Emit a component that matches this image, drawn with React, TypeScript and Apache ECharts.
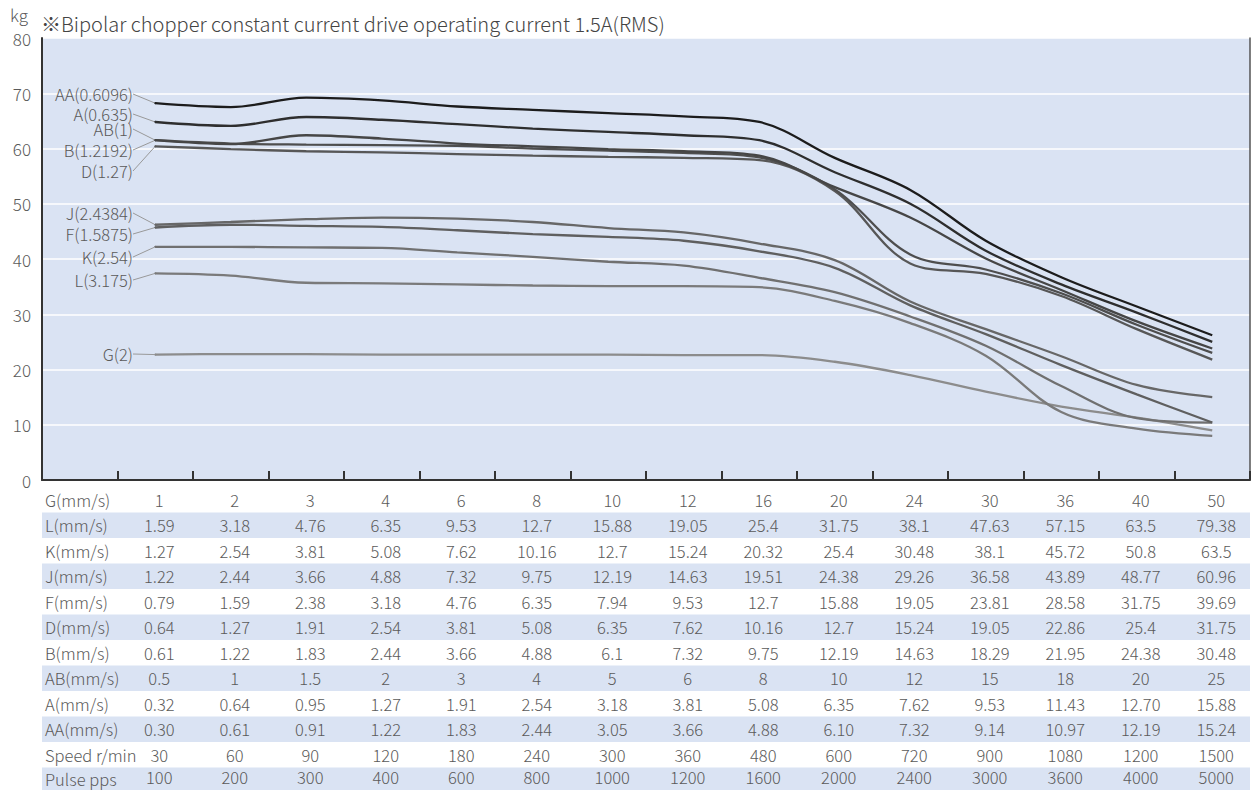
import React, { useEffect, useRef } from 'react';
import * as echarts from 'echarts';

// ---- data ----
const speedG = ['1', '2', '3', '4', '6', '8', '10', '12', '16', '20', '24', '30', '36', '40', '50'];
const rowL = ['1.59', '3.18', '4.76', '6.35', '9.53', '12.7', '15.88', '19.05', '25.4', '31.75', '38.1', '47.63', '57.15', '63.5', '79.38'];
const rowK = ['1.27', '2.54', '3.81', '5.08', '7.62', '10.16', '12.7', '15.24', '20.32', '25.4', '30.48', '38.1', '45.72', '50.8', '63.5'];
const rowJ = ['1.22', '2.44', '3.66', '4.88', '7.32', '9.75', '12.19', '14.63', '19.51', '24.38', '29.26', '36.58', '43.89', '48.77', '60.96'];
const rowF = ['0.79', '1.59', '2.38', '3.18', '4.76', '6.35', '7.94', '9.53', '12.7', '15.88', '19.05', '23.81', '28.58', '31.75', '39.69'];
const rowD = ['0.64', '1.27', '1.91', '2.54', '3.81', '5.08', '6.35', '7.62', '10.16', '12.7', '15.24', '19.05', '22.86', '25.4', '31.75'];
const rowB = ['0.61', '1.22', '1.83', '2.44', '3.66', '4.88', '6.1', '7.32', '9.75', '12.19', '14.63', '18.29', '21.95', '24.38', '30.48'];
const rowAB = ['0.5', '1', '1.5', '2', '3', '4', '5', '6', '8', '10', '12', '15', '18', '20', '25'];
const rowA = ['0.32', '0.64', '0.95', '1.27', '1.91', '2.54', '3.18', '3.81', '5.08', '6.35', '7.62', '9.53', '11.43', '12.70', '15.88'];
const rowAA = ['0.30', '0.61', '0.91', '1.22', '1.83', '2.44', '3.05', '3.66', '4.88', '6.10', '7.32', '9.14', '10.97', '12.19', '15.24'];
const rowSpeed = ['30', '60', '90', '120', '180', '240', '300', '360', '480', '600', '720', '900', '1080', '1200', '1500'];
const rowPulse = ['100', '200', '300', '400', '600', '800', '1000', '1200', '1600', '2000', '2400', '3000', '3600', '4000', '5000'];

const tableLabels = ['G(mm/s)', 'L(mm/s)', 'K(mm/s)', 'J(mm/s)', 'F(mm/s)', 'D(mm/s)', 'B(mm/s)', 'AB(mm/s)', 'A(mm/s)', 'AA(mm/s)', 'Speed r/min', 'Pulse pps'];
const tableValues = [speedG, rowL, rowK, rowJ, rowF, rowD, rowB, rowAB, rowA, rowAA, rowSpeed, rowPulse];

const seriesNames = ['AA(0.6096)', 'A(0.635)', 'AB(1)', 'B(1.2192)', 'D(1.27)', 'J(2.4384)', 'F(1.5875)', 'K(2.54)', 'L(3.175)', 'G(2)'];
const forceAA = [68.2, 67.5, 69.2, 68.7, 67.6, 67.0, 66.4, 65.8, 64.8, 58.3, 52.5, 43.3, 36.7, 31.4, 26.2];
const forceA = [64.8, 64.1, 65.7, 65.2, 64.4, 63.6, 63.0, 62.4, 61.5, 55.7, 50.0, 41.5, 35.4, 30.3, 25.0];
const forceAB = [61.5, 60.8, 62.4, 61.8, 60.9, 60.4, 59.9, 59.5, 58.7, 53.0, 47.5, 40.1, 34.4, 28.7, 23.8];
const forceB = [61.5, 60.9, 60.7, 60.6, 60.5, 60.0, 59.6, 59.2, 58.4, 52.6, 40.8, 38.1, 33.8, 28.1, 23.0];
const forceD = [60.4, 59.9, 59.5, 59.3, 59.0, 58.7, 58.5, 58.3, 57.9, 52.3, 39.2, 37.3, 33.3, 27.3, 21.8];
const forceJ = [46.2, 46.7, 47.2, 47.5, 47.3, 46.7, 45.6, 44.8, 42.8, 39.8, 32.3, 27.3, 22.4, 17.2, 15.0];
const forceF = [45.7, 46.2, 46.0, 45.8, 45.2, 44.5, 44.0, 43.3, 41.4, 38.4, 31.6, 26.4, 20.8, 15.5, 10.4];
const forceK = [42.2, 42.2, 42.1, 42.0, 41.2, 40.4, 39.5, 38.8, 36.6, 34.0, 29.6, 24.3, 17.0, 11.2, 10.4];
const forceL = [37.4, 37.0, 35.7, 35.6, 35.4, 35.2, 35.1, 35.1, 34.9, 32.4, 28.4, 22.5, 12.3, 9.3, 8.0];
const forceG = [22.7, 22.8, 22.8, 22.7, 22.7, 22.7, 22.7, 22.6, 22.6, 21.4, 19.0, 16.0, 13.3, 11.3, 9.0];
const seriesValues = [forceAA, forceA, forceAB, forceB, forceD, forceJ, forceF, forceK, forceL, forceG];

const yTicks = { min: 0, max: 80, interval: 10 };

// ---- styles ----
const FONT = "'Noto Sans CJK JP Light', 'Noto Sans CJK JP DemiLight', 'Noto Sans CJK JP', 'Noto Sans', sans-serif";
const TEXT = '#5a5a5a';
const BLUE = '#dae3f3';
const lineColors = ['#1c1c1c', '#2e2e2e', '#464646', '#4e4e4e', '#575757', '#676767', '#5f5f5f', '#707070', '#7a7a7a', '#8c8c8c'];
const labelYs = [94, 114, 129, 150, 171, 213, 234, 257, 280, 354];

const GRID_L = 42;
const GRID_W = 1208;
const ROW_TOP = 487;
const ROW_H = 25.5;

function buildOption() {
  const grids: any[] = [
    { left: GRID_L, top: 38, width: GRID_W, height: 442, show: true, backgroundColor: BLUE, borderWidth: 0 },
  ];
  const xAxes: any[] = [
    {
      type: 'category',
      gridIndex: 0,
      data: ['', ...speedG],
      boundaryGap: true,
      axisLine: { lineStyle: { color: '#333', width: 2 } },
      axisTick: { show: true, inside: true, length: 9, interval: 0, lineStyle: { color: '#333', width: 2 } },
      axisLabel: { show: false },
      splitLine: { show: false },
    },
  ];
  const yAxes: any[] = [
    {
      type: 'value',
      gridIndex: 0,
      ...yTicks,
      name: 'kg',
      nameLocation: 'end',
      nameGap: 15,
      nameTextStyle: { fontSize: 17, color: TEXT, fontFamily: FONT, fontWeight: 300, align: 'right', verticalAlign: 'bottom', padding: [0, 14, 0, 0] },
      axisLine: { show: true, lineStyle: { color: '#333', width: 2 } },
      axisTick: { show: false },
      axisLabel: { fontSize: 17, color: TEXT, fontFamily: FONT, fontWeight: 300, margin: 11 },
      splitLine: { show: true, lineStyle: { color: '#ffffff', width: 1.5 } },
    },
    {
      type: 'value',
      gridIndex: 0,
      position: 'right',
      ...yTicks,
      axisLine: { show: true, lineStyle: { color: '#555', width: 1.5 } },
      axisTick: { show: false },
      axisLabel: { show: false },
      splitLine: { show: false },
    },
  ];

  tableLabels.forEach((label, i) => {
    const gi = i + 1;
    grids.push({
      left: GRID_L,
      top: ROW_TOP + ROW_H * i,
      width: GRID_W,
      height: ROW_H,
      show: true,
      backgroundColor: i % 2 === 1 ? BLUE : 'rgba(0,0,0,0)',
      borderWidth: 0,
    });
    xAxes.push({
      type: 'category',
      gridIndex: gi,
      data: ['', ...tableValues[i]],
      boundaryGap: true,
      axisLine: { show: false },
      axisTick: { show: false },
      splitLine: { show: false },
      axisLabel: {
        interval: 0,
        fontSize: 16.5,
        color: TEXT,
        fontFamily: FONT,
        fontWeight: 300,
        verticalAlign: 'middle',
        margin: -ROW_H / 2,
        padding: [0, 0, 0, 8],
      },
    });
    yAxes.push({
      type: 'category',
      gridIndex: gi,
      data: [label],
      axisLine: { show: false },
      axisTick: { show: false },
      splitLine: { show: false },
      axisLabel: { inside: true, margin: 3, fontSize: 16.5, color: TEXT, fontFamily: FONT, fontWeight: 300 },
    });
  });

  const series = seriesNames.map((name, si) => ({
    type: 'line',
    name,
    xAxisIndex: 0,
    yAxisIndex: 0,
    smooth: 0.35,
    symbol: 'none',
    showSymbol: true,
    z: 20 - si,
    lineStyle: { color: lineColors[si], width: 2.3 },
    itemStyle: { color: lineColors[si] },
    labelLine: { show: true, lineStyle: { color: '#999', width: 1 } },
    labelLayout: (params: any) => {
      const r = params.rect;
      const px = r.x + r.width / 2;
      const py = r.y + r.height / 2;
      const ly = labelYs[si];
      return {
        x: 133,
        y: ly,
        align: 'right',
        verticalAlign: 'middle',
        labelLinePoints: [[135, ly], [135, ly], [px, py]],
      };
    },
    data: [
      '-',
      ...seriesValues[si].map((v, k) =>
        k === 0
          ? {
              value: v,
              symbol: 'circle',
              symbolSize: 2,
              label: { show: true, formatter: name, fontSize: 16.5, color: TEXT, fontFamily: FONT, fontWeight: 300 },
            }
          : v
      ),
    ],
  }));

  return {
    animation: false,
    backgroundColor: '#ffffff',
    title: {
      text: '※Bipolar chopper constant current drive operating current 1.5A(RMS)',
      left: 41,
      top: 13,
      padding: 0,
      textStyle: { fontSize: 20, fontWeight: 300, color: '#444', fontFamily: FONT },
    },
    grid: grids,
    xAxis: xAxes,
    yAxis: yAxes,
    series,
  };
}

export default function App() {
  const ref = useRef<HTMLDivElement>(null);
  useEffect(() => {
    const chart = echarts.init(ref.current!, null, { renderer: 'svg' });
    chart.setOption(buildOption() as any);
    return () => chart.dispose();
  }, []);
  return <div ref={ref} style={{ position: 'absolute', left: 0, top: 0, width: 1252, height: 790 }} />;
}
